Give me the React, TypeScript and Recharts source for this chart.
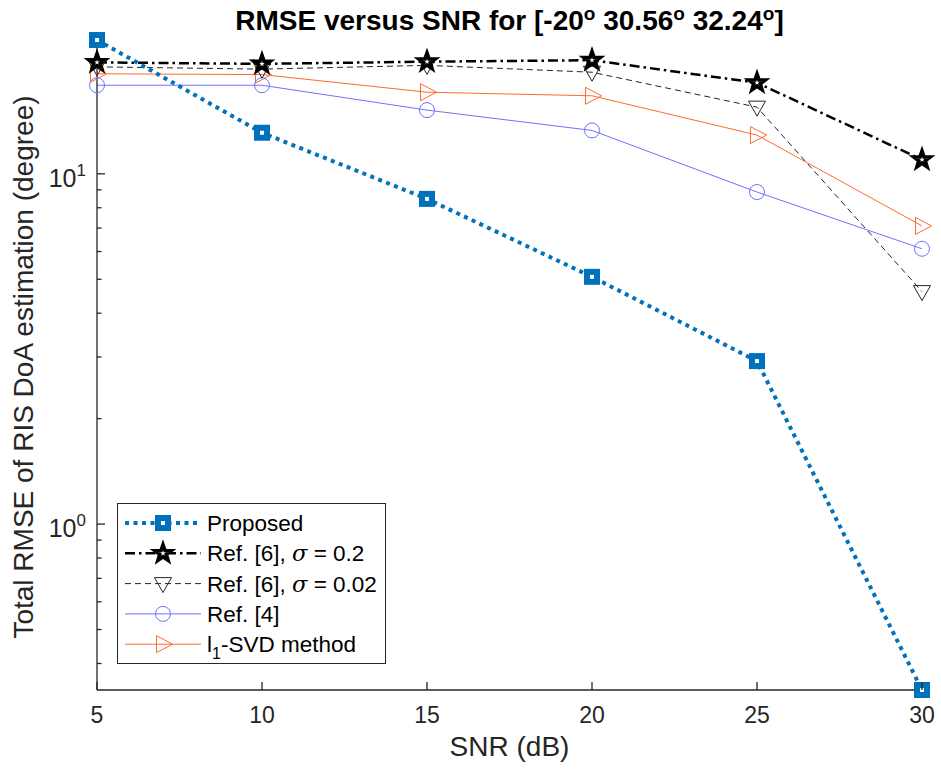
import React from 'react';
import { LineChart, Line, XAxis, YAxis, Legend, Customized } from 'recharts';

const snr = [5, 10, 15, 20, 25, 30];
const proposed = [24.1, 13.1, 8.48, 5.08, 2.92, 0.336];
const ref6Sigma02 = [20.8, 20.6, 20.9, 21.1, 18.2, 10.97];
const ref6Sigma002 = [20.2, 19.9, 20.4, 19.5, 15.5, 4.61];
const ref4 = [17.9, 17.9, 15.2, 13.3, 8.87, 6.11];
const l1svd = [19.3, 19.2, 17.1, 16.7, 12.9, 7.1];

const xTicks = [5, 10, 15, 20, 25, 30];
const yMajorTicks = [1, 10];
const yMinorTicks = [0.4, 0.5, 0.6, 0.7, 0.8, 0.9, 2, 3, 4, 5, 6, 7, 8, 9, 20];
const yTickExponent: Record<number, string> = { 1: '0', 10: '1' };

const titleParts = ['RMSE versus SNR for [-20', ' 30.56', ' 32.24', ']'];
const xLabel = 'SNR (dB)';
const yLabel = 'Total RMSE of RIS DoA estimation (degree)';

const data = snr.map((s, i) => ({
  snr: s,
  proposed: proposed[i],
  ref6a: ref6Sigma02[i],
  ref6b: ref6Sigma002[i],
  ref4: ref4[i],
  l1svd: l1svd[i],
}));

const allValues = [...proposed, ...ref6Sigma02, ...ref6Sigma002, ...ref4, ...l1svd];
const yDomain: [number, number] = [Math.min(...allValues), Math.max(...allValues)];
const yTicks = [...yMajorTicks, ...yMinorTicks].sort((a, b) => a - b);

const FONT = '"Liberation Sans", Arial, Helvetica, sans-serif';
const AX = '#262626';

const BLUE = '#0072BD';
const PURPLE = '#7171FF';
const ORANGE = '#FF6A30';

type MarkerKind = 'square' | 'star' | 'tridown' | 'circle' | 'triright';

function starPoints(cx: number, cy: number, R: number, r: number) {
  const pts: string[] = [];
  for (let k = 0; k < 10; k++) {
    const ang = -Math.PI / 2 + (k * Math.PI) / 5;
    const rad = k % 2 === 0 ? R : r;
    pts.push(`${cx + rad * Math.cos(ang)},${cy + rad * Math.sin(ang)}`);
  }
  return pts.join(' ');
}

function Marker({ kind, cx, cy }: { kind: MarkerKind; cx: number; cy: number }) {
  switch (kind) {
    case 'square':
      return <rect x={cx - 5} y={cy - 5} width={10} height={10} fill="#fff" stroke={BLUE} strokeWidth={6} />;
    case 'star':
      return <polygon points={starPoints(cx, cy, 8.5, 3.4)} fill="#fff" stroke="#000" strokeWidth={3.7} strokeLinejoin="miter" />;
    case 'tridown':
      return <polygon points={`${cx - 8.5},${cy - 6} ${cx + 8.5},${cy - 6} ${cx},${cy + 9}`} fill="none" stroke={AX} strokeWidth={1} />;
    case 'circle':
      return <circle cx={cx} cy={cy} r={7.5} fill="none" stroke={PURPLE} strokeWidth={1} />;
    case 'triright':
      return <polygon points={`${cx - 6.5},${cy - 8.5} ${cx - 6.5},${cy + 8.5} ${cx + 9.5},${cy}`} fill="none" stroke={ORANGE} strokeWidth={1} />;
  }
  return null;
}

const makeDot = (kind: MarkerKind, id: string) => (props: any) => {
  const { cx, cy, index } = props;
  if (cx == null || cy == null) return <g key={`${id}-${index}`} />;
  return (
    <g key={`${id}-${index}`}>
      <Marker kind={kind} cx={cx} cy={cy} />
    </g>
  );
};

const series = [
  { key: 'proposed', color: BLUE, width: 4, dash: '4 4.5', marker: 'square' as MarkerKind },
  { key: 'ref6a', color: '#000', width: 2.5, dash: '10 4 2.5 4', marker: 'star' as MarkerKind },
  { key: 'ref6b', color: AX, width: 1, dash: '6 4', marker: 'tridown' as MarkerKind },
  { key: 'ref4', color: PURPLE, width: 1, dash: undefined, marker: 'circle' as MarkerKind },
  { key: 'l1svd', color: ORANGE, width: 1, dash: undefined, marker: 'triright' as MarkerKind },
];

function LeftYTick(props: any) {
  const { x, y, payload } = props;
  const v = payload.value;
  const major = yMajorTicks.includes(v);
  return (
    <g>
      <line x1={x} x2={x + (major ? 8 : 4.5)} y1={y} y2={y} stroke={AX} strokeWidth={1.3} />
      {major && (
        <text x={x - 11} y={y + 13} textAnchor="end" fontFamily={FONT} fontSize={25} fill={AX}>
          10
          <tspan dy={-11} fontSize={17}>{yTickExponent[v]}</tspan>
        </text>
      )}
    </g>
  );
}

function RightYTick(props: any) {
  const { x, y, payload } = props;
  const major = yMajorTicks.includes(payload.value);
  return <line x1={x} x2={x - (major ? 8 : 4.5)} y1={y} y2={y} stroke={AX} strokeWidth={1.3} />;
}

function BottomXTick(props: any) {
  const { x, y, payload } = props;
  return (
    <g>
      <line x1={x} x2={x} y1={y} y2={y - 8} stroke={AX} strokeWidth={1.3} />
      <text x={x} y={y + 33} textAnchor="middle" fontFamily={FONT} fontSize={23} fill={AX}>
        {payload.value}
      </text>
    </g>
  );
}

function TopXTick(props: any) {
  const { x, y } = props;
  return <line x1={x} x2={x} y1={y} y2={y + 8} stroke={AX} strokeWidth={1.3} />;
}

function Texts() {
  return (
    <g fontFamily={FONT}>
      <text x={509.5} y={30} textAnchor="middle" fontWeight="bold" fontSize={28} fill="#000">
        {titleParts[0]}
        <tspan dy={-10} fontSize={19}>o</tspan>
        <tspan dy={10}>{titleParts[1]}</tspan>
        <tspan dy={-10} fontSize={19}>o</tspan>
        <tspan dy={10}>{titleParts[2]}</tspan>
        <tspan dy={-10} fontSize={19}>o</tspan>
        <tspan dy={10}>{titleParts[3]}</tspan>
      </text>
      <text x={509.5} y={756} textAnchor="middle" fontSize={28} fill={AX}>
        {xLabel}
      </text>
      <text x={0} y={0} transform="translate(33,367) rotate(-90)" textAnchor="middle" fontSize={28} fill={AX}>
        {yLabel}
      </text>
    </g>
  );
}

function LegendLabel({ k, y }: { k: string; y: number }) {
  const common = { x: 90, y, fontFamily: FONT, fontSize: 22.5, fill: '#000' } as const;
  const sigma = (
    <tspan fontStyle="italic" fontFamily='"DejaVu Serif", "Liberation Serif", serif'>
      σ
    </tspan>
  );
  if (k === 'ref6a')
    return (
      <text {...common}>
        Ref. [6], {sigma} = 0.2
      </text>
    );
  if (k === 'ref6b')
    return (
      <text {...common}>
        Ref. [6], {sigma} = 0.02
      </text>
    );
  if (k === 'l1svd')
    return (
      <text {...common}>
        l<tspan dy={7} fontSize={16}>1</tspan>
        <tspan dy={-7}>-SVD method</tspan>
      </text>
    );
  if (k === 'proposed') return <text {...common}>Proposed</text>;
  return <text {...common}>Ref. [4]</text>;
}

function LegendBox() {
  const W = 269;
  const H = 161;
  return (
    <svg width={W} height={H} style={{ display: 'block' }}>
      <rect x={0.5} y={0.5} width={W - 1} height={H - 1} fill="#fff" stroke={AX} strokeWidth={1} />
      {series.map((s, i) => {
        const cy = 20 + i * 30.3;
        return (
          <g key={s.key}>
            <line x1={8} x2={84} y1={cy} y2={cy} stroke={s.color} strokeWidth={s.width} strokeDasharray={s.dash} />
            <Marker kind={s.marker} cx={46} cy={cy} />
            <LegendLabel k={s.key} y={cy + 8} />
          </g>
        );
      })}
    </svg>
  );
}

export default function App() {
  return (
    <div style={{ position: 'absolute', left: 0, top: 0, width: 941, height: 773, background: '#fff' }}>
      <LineChart
        width={941}
        height={773}
        data={data}
        margin={{ top: 40, right: 19, bottom: 43, left: 37 }}
        style={{ background: '#fff' }}
      >
        <XAxis
          xAxisId="bottom"
          dataKey="snr"
          type="number"
          domain={[5, 30]}
          ticks={xTicks}
          interval={0}
          height={40}
          tickSize={0}
          tickMargin={0}
          tickLine={false}
          axisLine={{ stroke: AX, strokeWidth: 1.3 }}
          tick={<BottomXTick />}
        />
        <XAxis
          xAxisId="top"
          orientation="top"
          dataKey="snr"
          type="number"
          domain={[5, 30]}
          allowDataOverflow
          ticks={xTicks}
          interval={0}
          height={0}
          tickSize={0}
          tickMargin={0}
          tickLine={false}
          axisLine={{ stroke: AX, strokeWidth: 1.3 }}
          tick={<TopXTick />}
        />
        <YAxis
          yAxisId="left"
          scale="log"
          type="number"
          domain={yDomain}
          ticks={yTicks}
          interval={0}
          width={60}
          tickSize={0}
          tickMargin={0}
          tickLine={false}
          axisLine={{ stroke: AX, strokeWidth: 1.3 }}
          tick={<LeftYTick />}
        />
        <YAxis
          yAxisId="right"
          orientation="right"
          scale="log"
          type="number"
          domain={yDomain}
          allowDataOverflow
          ticks={yTicks}
          interval={0}
          width={0}
          tickSize={0}
          tickMargin={0}
          tickLine={false}
          axisLine={{ stroke: AX, strokeWidth: 1.3 }}
          tick={<RightYTick />}
        />
        {[...series].reverse().map((s) => (
          <Line
            key={s.key}
            xAxisId="bottom"
            yAxisId="left"
            type="linear"
            dataKey={s.key}
            stroke={s.color}
            strokeWidth={s.width}
            strokeDasharray={s.dash}
            dot={makeDot(s.marker, s.key)}
            activeDot={false}
            isAnimationActive={false}
          />
        ))}
        <Legend
          layout="horizontal"
          verticalAlign="middle"
          align="center"
          wrapperStyle={{ left: 117, top: 503, width: 269, height: 161 }}
          content={() => <LegendBox />}
        />
        <Customized component={Texts} />
      </LineChart>
    </div>
  );
}
